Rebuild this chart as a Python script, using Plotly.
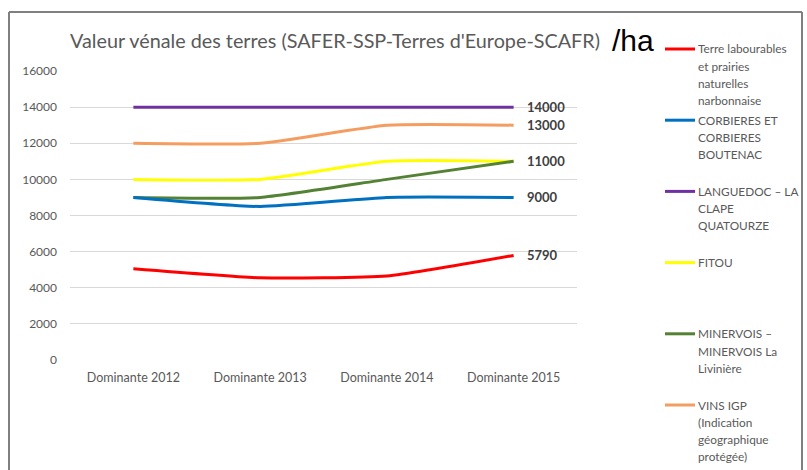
import plotly.graph_objects as go

categories = ["Dominante 2012", "Dominante 2013", "Dominante 2014", "Dominante 2015"]

series_names = [
    "Terre labourables<br>et prairies<br>naturelles<br>narbonnaise",
    "CORBIERES ET<br>CORBIERES<br>BOUTENAC",
    "LANGUEDOC – LA<br>CLAPE<br>QUATOURZE",
    "FITOU",
    "MINERVOIS –<br>MINERVOIS La<br>Livinière",
    "VINS IGP<br>(Indication<br>géographique<br>protégée)",
]
terres = [5050, 4550, 4650, 5790]
corbieres = [9000, 8500, 9000, 9000]
languedoc = [14000, 14000, 14000, 14000]
fitou = [10000, 10000, 11000, 11000]
minervois = [9000, 9000, 10000, 11000]
vins_igp = [12000, 12000, 13000, 13000]
series_values = [terres, corbieres, languedoc, fitou, minervois, vins_igp]
show_end_label = [True, True, True, True, False, True]
colors = ["#FF0000", "#0070C0", "#7030A0", "#FFFF00", "#548235", "#F59D61"]
y_ticks = [0, 2000, 4000, 6000, 8000, 10000, 12000, 14000, 16000]
y_tick_labels = [str(v) for v in y_ticks]

W, H = 807, 470
ML, MR, MT, MB = 70, 230, 71, 110
PW, PH = W - ML - MR, H - MT - MB


def px(x):
    return (x - ML) / PW


def py(y):
    return (H - MB - y) / PH


fig = go.Figure()
draw_order = [2, 5, 3, 4, 1, 0]
for i in draw_order:
    fig.add_trace(go.Scatter(
        x=categories, y=series_values[i], mode="lines",
        line=dict(color=colors[i], width=3, shape="spline", smoothing=0.5),
        showlegend=False, hoverinfo="skip",
    ))

annotations = []
shapes = []
for i, vals in enumerate(series_values):
    if show_end_label[i]:
        annotations.append(dict(
            x=categories[-1], y=vals[-1], xref="x", yref="y",
            text="<b>%d</b>" % vals[-1], showarrow=False,
            xanchor="left", yanchor="middle", xshift=11,
            font=dict(family="Lato, Open Sans, sans-serif", size=13, color="#404040"),
        ))

# Manual legend (Excel-like, equal spacing)
legend_top = 49
legend_step = 71.2
line_gap = 17.2
for i, name in enumerate(series_names):
    yc = legend_top + i * legend_step
    shapes.append(dict(type="line", xref="paper", yref="paper",
                       x0=px(665), x1=px(695), y0=py(yc), y1=py(yc),
                       line=dict(color=colors[i], width=3)))
    for k, part in enumerate(name.split("<br>")):
        annotations.append(dict(
            x=px(696), y=py(yc + k * line_gap), xref="paper", yref="paper",
            text=part, showarrow=False, xanchor="left", yanchor="middle", align="left",
            font=dict(family="Lato, Open Sans, sans-serif", size=11.8, color="#595959"),
        ))

# Title
annotations.append(dict(
    x=px(68), y=py(40), xref="paper", yref="paper",
    text="Valeur vénale des terres (SAFER-SSP-Terres d'Europe-SCAFR)",
    showarrow=False, xanchor="left", yanchor="middle",
    font=dict(family="Lato, Open Sans, sans-serif", size=19.8, color="#595959"),
))
annotations.append(dict(
    x=px(610), y=py(41), xref="paper", yref="paper",
    text="/ha", showarrow=False, xanchor="left", yanchor="middle",
    font=dict(family="Liberation Sans, Arial, sans-serif", size=30, color="#000000"),
))

# Outer frame (left, top, right edges)
frame = dict(color="#808080", width=2)
shapes.append(dict(type="line", xref="paper", yref="paper",
                   x0=px(9), x1=px(9), y0=py(475), y1=py(12), line=frame))
shapes.append(dict(type="line", xref="paper", yref="paper",
                   x0=px(9), x1=px(802), y0=py(12), y1=py(12), line=frame))
shapes.append(dict(type="line", xref="paper", yref="paper",
                   x0=px(802), x1=px(802), y0=py(475), y1=py(12), line=frame))

fig.update_layout(
    width=W, height=H,
    margin=dict(l=ML, r=MR, t=MT, b=MB, pad=0),
    paper_bgcolor="white", plot_bgcolor="white",
    showlegend=False,
    font=dict(family="Lato, Open Sans, sans-serif", size=12, color="#595959"),
    xaxis=dict(type="category", showgrid=False, zeroline=False, showline=False,
               ticks="", tickfont=dict(size=12.5, color="#595959"),
               range=[-0.5, 3.5], ticklabelstandoff=8),
    yaxis=dict(range=[0, 16000], tickvals=y_ticks, ticktext=y_tick_labels,
               showgrid=True, gridcolor="#D9D9D9", gridwidth=1, zeroline=False,
               showline=False, ticks="", tickfont=dict(size=12, color="#595959"),
               ticklabelstandoff=12),
    annotations=annotations, shapes=shapes,
)

fig.write_html("out.html", config={"displayModeBar": False},
               post_script="document.body.style.margin='0';document.body.style.overflow='hidden';"
                           "document.documentElement.style.overflow='hidden';")
